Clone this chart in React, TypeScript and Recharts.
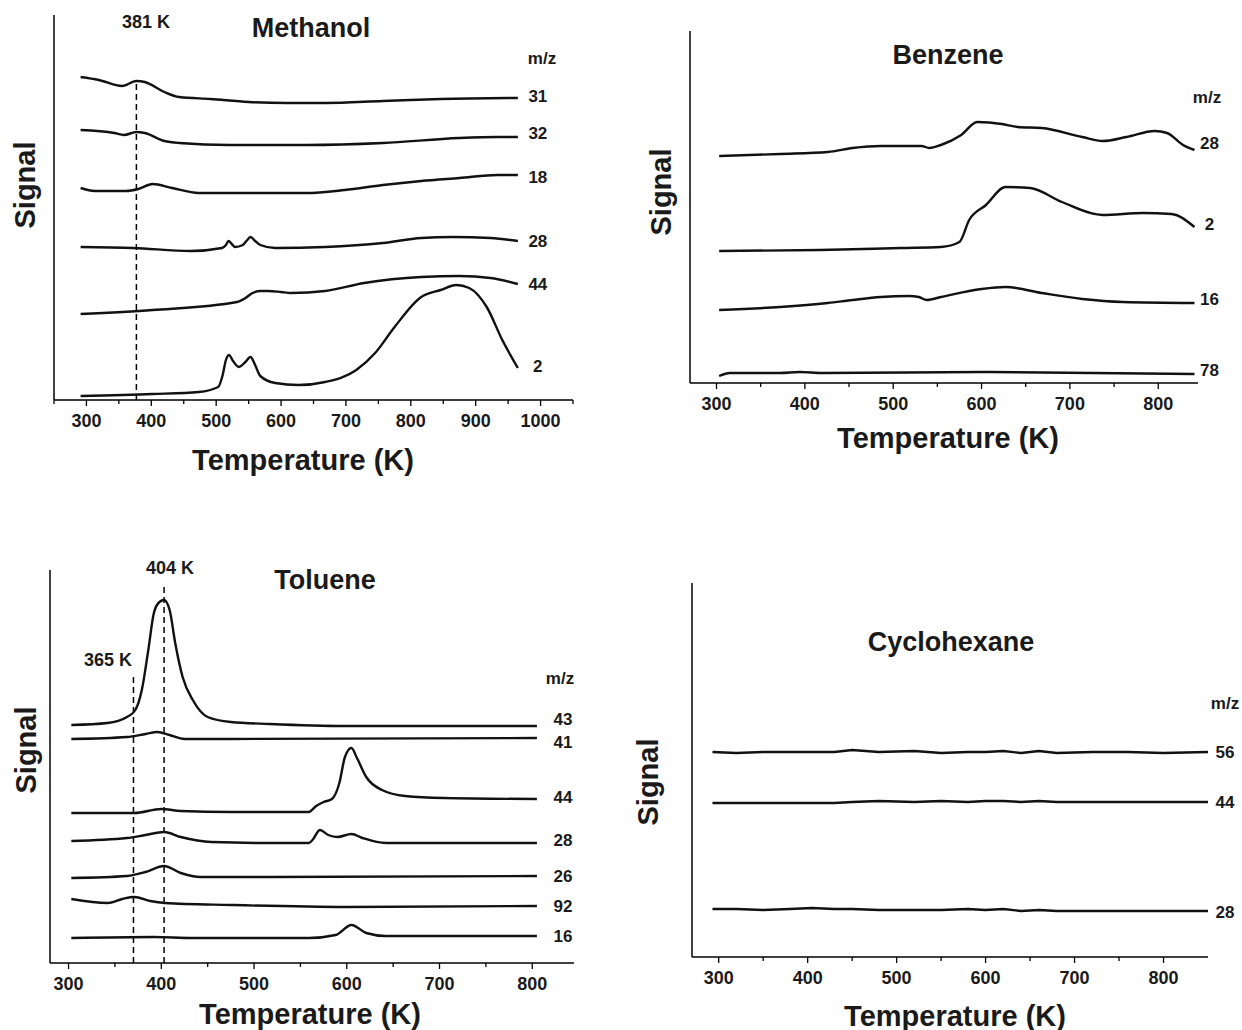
import { LineChart, Line, XAxis, YAxis, ReferenceLine } from "recharts";

const FONT = '"Liberation Sans", Arial, Helvetica, sans-serif';

// ---- Methanol (m/z traces, temperature in K, signal in arbitrary units) ----
const mT31 = [291, 319, 355, 377, 390, 420, 443, 491, 550, 609, 668, 757, 846, 965];
const mV31 = [323, 320, 314, 319, 318, 308, 303, 301, 298, 297, 297, 299, 301, 302];
const mT32 = [291, 343, 358, 377, 390, 420, 443, 520, 639, 757, 875, 934, 965];
const mV32 = [270, 267, 265, 268, 267, 259, 257, 255, 255, 257, 262, 263, 263];
const mT18 = [291, 313, 361, 380, 402, 432, 473, 550, 639, 698, 757, 816, 875, 934, 965];
const mV18 = [212, 209, 209, 211, 216, 212, 207, 207, 207, 210, 215, 219, 222, 225, 225];
const mT28 = [291, 372, 461, 509, 515, 519, 524, 529, 541, 548, 553, 560, 568, 591, 668, 757, 816, 864, 923, 965];
const mV28 = [153, 152, 149, 152, 155, 159, 156, 153, 155, 160, 163, 159, 155, 152, 153, 157, 162, 163, 162, 159];
const mT44 = [291, 402, 532, 545, 556, 568, 580, 600, 615, 668, 728, 816, 875, 923, 965];
const mV44 = [86, 90, 98, 102, 107, 109, 109, 108, 107, 109, 117, 123, 124, 122, 116];
const mT2 = [291, 402, 473, 503, 510, 515, 520, 525, 535, 545, 553, 560, 568, 591, 627, 668, 716, 745, 775, 816, 846, 870, 890, 917, 941, 965];
const mV2 = [4, 6, 8, 13, 25, 40, 45, 40, 33, 38, 43, 35, 24, 17, 15, 18, 30, 47, 73, 103, 110, 115, 112, 93, 60, 32];
const methanolYTicks = [82, 182, 283];

// ---- Benzene ----
const bT28 = [303, 372, 426, 454, 486, 509, 532, 541, 554, 577, 595, 623, 641, 668, 714, 737, 764, 796, 810, 828, 841];
const bV28 = [227, 229, 231, 235, 237, 237, 237, 235, 238, 248, 261, 259, 256, 255, 246, 242, 246, 252, 250, 238, 233];
const bT2 = [303, 417, 509, 554, 575, 586, 605, 627, 655, 691, 737, 783, 815, 841];
const bV2 = [132, 133, 135, 136, 141, 163, 178, 196, 195, 181, 168, 170, 169, 156];
const bT16 = [303, 372, 426, 454, 486, 518, 529, 538, 554, 600, 627, 668, 714, 760, 841];
const bV16 = [73, 76, 80, 83, 86, 87, 86, 83, 86, 94, 96, 90, 84, 81, 80];
const bT78 = [303, 315, 372, 394, 420, 600, 841];
const bV78 = [7, 10, 10, 11, 10, 11, 9];
const benzeneYTicks = [27, 56, 84, 112, 141, 169, 196, 225, 253, 281, 310, 338];

// ---- Toluene ----
const tT43 = [303, 342, 363, 372, 379, 386, 392, 398, 403, 409, 415, 423, 434, 450, 475, 517, 600, 805];
const tV43 = [238, 240, 246, 253, 273, 313, 350, 361, 363, 353, 320, 286, 263, 246, 241, 239, 237, 237];
const tT41 = [303, 363, 383, 396, 409, 425, 475, 805];
const tV41 = [224, 226, 229, 231, 228, 224, 224, 225];
const tT44 = [303, 371, 400, 421, 475, 559, 567, 575, 584, 592, 598, 605, 611, 621, 638, 663, 705, 805];
const tV44 = [150, 150, 154, 152, 151, 151, 157, 161, 164, 180, 206, 215, 205, 186, 173, 167, 165, 164];
const tT28 = [303, 363, 383, 403, 421, 454, 517, 559, 563, 571, 580, 590, 605, 617, 642, 805];
const tV28 = [122, 125, 128, 131, 126, 121, 120, 120, 123, 133, 128, 126, 129, 125, 120, 120];
const tT26 = [303, 363, 383, 403, 421, 442, 517, 805];
const tV26 = [85, 87, 91, 97, 90, 86, 86, 87];
const tT92 = [303, 342, 358, 371, 388, 404, 475, 600, 805];
const tV92 = [64, 60, 64, 66, 62, 60, 58, 56, 57];
const tT16 = [303, 392, 434, 559, 588, 605, 621, 642, 805];
const tV16 = [25, 26, 25, 25, 28, 38, 30, 27, 27];
const tolueneYTicks = [30, 60, 90, 121, 151, 181, 211, 241, 271, 302, 332, 363];

// ---- Cyclohexane ----
const cT = [293, 320, 350, 380, 405, 430, 450, 480, 520, 550, 580, 600, 620, 640, 660, 680, 720, 760, 800, 850];
const cV56 = [205, 204, 205, 205, 205, 205, 207, 205, 206, 204, 205, 205, 206, 204, 206, 204, 205, 205, 204, 205];
const cV44 = [154, 154, 154, 154, 154, 154, 155, 156, 155, 156, 155, 156, 156, 155, 156, 155, 155, 155, 155, 155];
const cV28 = [48, 48, 47, 48, 49, 48, 48, 47, 47, 47, 48, 47, 48, 46, 47, 46, 46, 46, 46, 46];
const cyclohexaneYTicks = [35, 69, 104, 137, 172, 207, 240, 274, 309, 344];

// x ticks every 50 K, labels on the hundreds
const methanolXTicks = [250, 300, 350, 400, 450, 500, 550, 600, 650, 700, 750, 800, 850, 900, 950, 1000, 1050];
const shortXTicks = [300, 350, 400, 450, 500, 550, 600, 650, 700, 750, 800];

const zip = (t: number[], v: number[]) => t.map((x, i) => ({ t: x, v: v[i] }));

const TICK_SIZE = 6;
const TICK_MARGIN = 6;

const XTick = (props: any) => {
  const { x, y, payload } = props;
  const axisY = y - TICK_SIZE - TICK_MARGIN;
  const major = payload.value % 100 === 0;
  return (
    <g>
      <line x1={x} x2={x} y1={axisY} y2={axisY + (major ? 6 : 4)} stroke="#000" strokeWidth={1.3} />
      {major && (
        <text x={x} y={axisY + 21} dy="0.35em" textAnchor="middle" fontFamily={FONT} fontWeight={700} fontSize={18} fill="#1a1a1a">
          {payload.value}
        </text>
      )}
    </g>
  );
};

type Series = { name: string; t: number[]; v: number[]; dy?: number };
type Mark = { t: number; top: number };

type PanelProps = {
  left: number;
  top: number;
  width: number;
  height: number;
  plotLeft: number;
  plotRight: number;
  plotTop: number;
  axisHeight: number;
  xDomain: [number, number];
  yMax: number;
  xTicks: number[];
  yTicks: number[];
  series: Series[];
  marks: Mark[];
  labelDx: number;
  curve: "monotone" | "linear";
};

function Panel(p: PanelProps) {
  return (
    <div style={{ position: "absolute", left: p.left, top: p.top }}>
      <LineChart
        width={p.width}
        height={p.height}
        margin={{ top: p.plotTop, right: p.plotRight, bottom: 0, left: p.plotLeft }}
      >
        <XAxis
          type="number"
          dataKey="t"
          domain={p.xDomain}
          ticks={p.xTicks}
          interval={0}
          height={p.axisHeight}
          tickSize={TICK_SIZE}
          tickMargin={TICK_MARGIN}
          tickLine={false}
          tick={<XTick />}
          axisLine={{ stroke: "#000", strokeWidth: 1.5 }}
        />
        <YAxis
          type="number"
          domain={[0, p.yMax]}
          ticks={p.yTicks}
          mirror
          tick={false}
          tickSize={3}
          tickLine={{ stroke: "#aaa", strokeWidth: 1 }}
          axisLine={{ stroke: "#000", strokeWidth: 1.5 }}
        />
        {p.marks.map((m, i) => (
          <ReferenceLine
            key={i}
            segment={[
              { x: m.t, y: 0 },
              { x: m.t, y: m.top },
            ]}
            stroke="#000"
            strokeWidth={1.5}
            strokeDasharray="6 4"
          />
        ))}
        {p.series.map((s) => {
          const last = s.t.length - 1;
          return (
            <Line
              key={s.name}
              data={zip(s.t, s.v)}
              dataKey="v"
              type={p.curve}
              stroke="#111"
              strokeWidth={2.4}
              dot={false}
              isAnimationActive={false}
              label={(lp: any) =>
                lp.index === last ? (
                  <text
                    key={`lab-${s.name}`}
                    x={lp.x + p.labelDx}
                    y={lp.y + (s.dy ?? 0)}
                    dy="0.35em"
                    textAnchor="middle"
                    fontFamily={FONT}
                    fontWeight={700}
                    fontSize={17}
                    fill="#1a1a1a"
                  >
                    {s.name}
                  </text>
                ) : (
                  <g key={`lab-${s.name}-${lp.index}`} />
                )
              }
            />
          );
        })}
      </LineChart>
    </div>
  );
}

function Txt({ x, y, size, rotate, children }: { x: number; y: number; size: number; rotate?: number; children: any }) {
  return (
    <div
      style={{
        position: "absolute",
        left: x,
        top: y,
        transform: `translate(-50%, -50%)${rotate ? ` rotate(${rotate}deg)` : ""}`,
        fontFamily: FONT,
        fontWeight: 700,
        fontSize: size,
        lineHeight: 1,
        whiteSpace: "nowrap",
        color: "#1a1a1a",
      }}
    >
      {children}
    </div>
  );
}

export default function App() {
  return (
    <div style={{ position: "absolute", left: 0, top: 0, width: 1242, height: 1030, background: "#fff", overflow: "hidden" }}>
      <Panel
        left={0}
        top={0}
        width={600}
        height={480}
        plotLeft={54}
        plotRight={27}
        plotTop={15}
        axisHeight={80}
        xDomain={[250, 1050]}
        yMax={385}
        xTicks={methanolXTicks}
        yTicks={methanolYTicks}
        marks={[{ t: 377, top: 320 }]}
        labelDx={20}
        curve="monotone"
        series={[
          { name: "31", t: mT31, v: mV31, dy: -2 },
          { name: "32", t: mT32, v: mV32, dy: -4 },
          { name: "18", t: mT18, v: mV18, dy: 2 },
          { name: "28", t: mT28, v: mV28 },
          { name: "44", t: mT44, v: mV44 },
          { name: "2", t: mT2, v: mV2, dy: -2 },
        ]}
      />
      <Panel
        left={620}
        top={0}
        width={622}
        height={480}
        plotLeft={70}
        plotRight={44}
        plotTop={31}
        axisHeight={97}
        xDomain={[270, 845]}
        yMax={352}
        xTicks={shortXTicks}
        yTicks={benzeneYTicks}
        marks={[]}
        labelDx={15}
        curve="monotone"
        series={[
          { name: "28", t: bT28, v: bV28, dy: -7 },
          { name: "2", t: bT2, v: bV2, dy: -3 },
          { name: "16", t: bT16, v: bV16, dy: -4 },
          { name: "78", t: bT78, v: bV78, dy: -4 },
        ]}
      />
      <Panel
        left={0}
        top={540}
        width={600}
        height={490}
        plotLeft={50}
        plotRight={26}
        plotTop={30}
        axisHeight={67}
        xDomain={[280, 845]}
        yMax={393}
        xTicks={shortXTicks}
        yTicks={tolueneYTicks}
        marks={[
          { t: 370, top: 286 },
          { t: 403, top: 376 },
        ]}
        labelDx={26}
        curve="monotone"
        series={[
          { name: "43", t: tT43, v: tV43, dy: -7 },
          { name: "41", t: tT41, v: tV41, dy: 4 },
          { name: "44", t: tT44, v: tV44, dy: -2 },
          { name: "28", t: tT28, v: tV28, dy: -3 },
          { name: "26", t: tT26, v: tV26 },
          { name: "92", t: tT92, v: tV92 },
          { name: "16", t: tT16, v: tV16 },
        ]}
      />
      <Panel
        left={620}
        top={540}
        width={622}
        height={490}
        plotLeft={72}
        plotRight={34}
        plotTop={43}
        axisHeight={73}
        xDomain={[270, 850]}
        yMax={374}
        xTicks={shortXTicks}
        yTicks={cyclohexaneYTicks}
        marks={[]}
        labelDx={17}
        curve="linear"
        series={[
          { name: "56", t: cT, v: cV56 },
          { name: "44", t: cT, v: cV44 },
          { name: "28", t: cT, v: cV28, dy: 1 },
        ]}
      />

      {/* Methanol texts */}
      <Txt x={311} y={28} size={27}>Methanol</Txt>
      <Txt x={146} y={22} size={18}>381 K</Txt>
      <Txt x={542} y={58} size={17}>m/z</Txt>
      <Txt x={25} y={185} size={29} rotate={-90}>Signal</Txt>
      <Txt x={303} y={460} size={29}>Temperature (K)</Txt>

      {/* Benzene texts */}
      <Txt x={948} y={55} size={27}>Benzene</Txt>
      <Txt x={1207} y={97} size={17}>m/z</Txt>
      <Txt x={661} y={192} size={29} rotate={-90}>Signal</Txt>
      <Txt x={948} y={438} size={29}>Temperature (K)</Txt>

      {/* Toluene texts */}
      <Txt x={325} y={580} size={27}>Toluene</Txt>
      <Txt x={170} y={568} size={18}>404 K</Txt>
      <Txt x={108} y={660} size={18}>365 K</Txt>
      <Txt x={560} y={678} size={17}>m/z</Txt>
      <Txt x={26} y={750} size={29} rotate={-90}>Signal</Txt>
      <Txt x={310} y={1014} size={29}>Temperature (K)</Txt>

      {/* Cyclohexane texts */}
      <Txt x={951} y={642} size={27}>Cyclohexane</Txt>
      <Txt x={1225} y={703} size={17}>m/z</Txt>
      <Txt x={648} y={782} size={29} rotate={-90}>Signal</Txt>
      <Txt x={955} y={1016} size={29}>Temperature (K)</Txt>
    </div>
  );
}
